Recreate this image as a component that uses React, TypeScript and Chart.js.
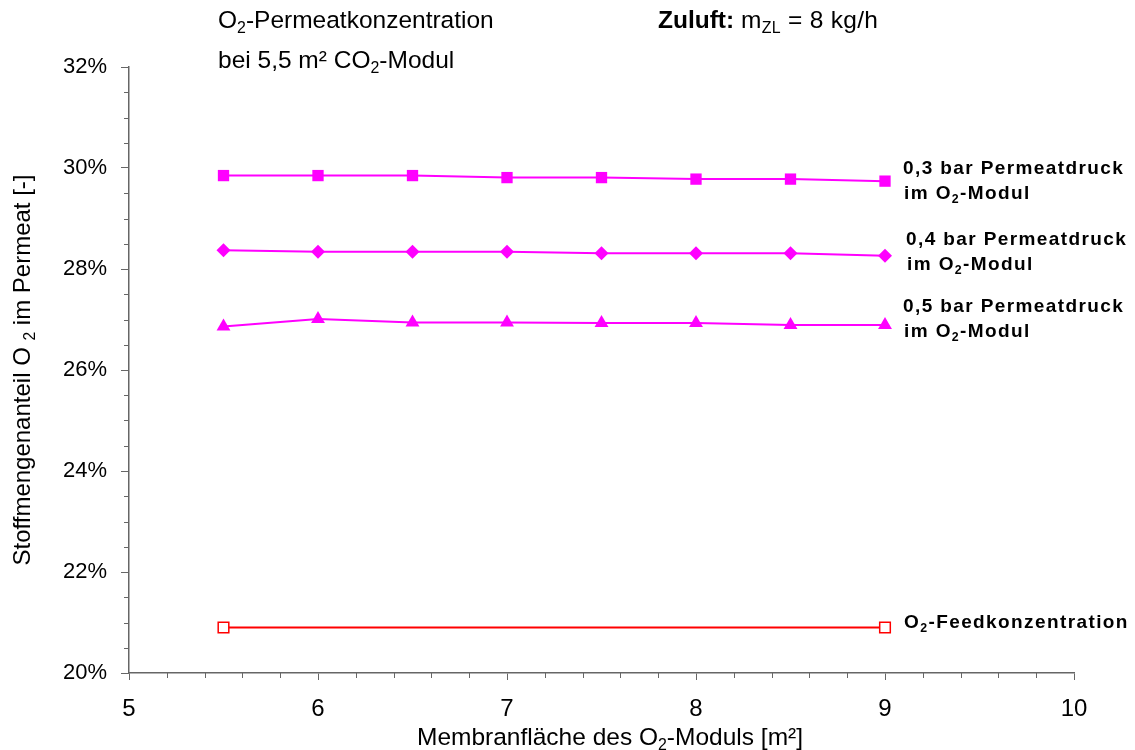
import { useEffect, useRef } from 'react';
import { Chart, registerables } from 'chart.js';

Chart.register(...registerables);

// Membrane area of the O2 module [m²]
const membraneArea = [5.5, 6, 6.5, 7, 7.5, 8, 8.5, 9];
// O2 mole fraction in the permeate [%] for each permeate pressure
const permeat03bar = [29.85, 29.85, 29.85, 29.81, 29.81, 29.78, 29.78, 29.74];
const permeat04bar = [28.37, 28.34, 28.34, 28.34, 28.31, 28.31, 28.31, 28.26];
const permeat05bar = [26.86, 27.01, 26.94, 26.94, 26.93, 26.93, 26.89, 26.89];
// O2 feed concentration (constant)
const feedArea = [5.5, 9];
const feedConc = [20.9, 20.9];

const FONT = '"Liberation Sans", Arial, sans-serif';
const MAGENTA = '#ff00ff';
const RED = '#ff0000';
const AXIS = '#666666';

type Seg = { t: string; sub?: boolean };

function drawRich(
  ctx: CanvasRenderingContext2D,
  segs: Seg[],
  x: number,
  y: number,
  size: number,
  weight: string,
  spacing: number,
  align: 'left' | 'center'
) {
  const fontFor = (s: number) => `${weight} ${s}px ${FONT}`;
  const c = ctx as any;
  c.letterSpacing = `${spacing}px`;
  const parts = segs.map((s) => {
    const sz = s.sub ? size * 0.65 : size;
    ctx.font = fontFor(sz);
    return { ...s, sz, w: ctx.measureText(s.t).width };
  });
  const total = parts.reduce((a, p) => a + p.w, 0);
  let cx = align === 'center' ? x - total / 2 : x;
  ctx.textAlign = 'left';
  ctx.textBaseline = 'alphabetic';
  for (const p of parts) {
    ctx.font = fontFor(p.sz);
    ctx.fillText(p.t, cx, y + (p.sub ? size * 0.22 : 0));
    cx += p.w;
  }
  c.letterSpacing = '0px';
}

const minorTicks = {
  id: 'minorTicks',
  afterDraw(chart: Chart) {
    const { ctx, chartArea } = chart;
    const xs = chart.scales.x;
    const ys = chart.scales.y;
    ctx.save();
    ctx.strokeStyle = AXIS;
    ctx.lineWidth = 1;
    ctx.beginPath();
    for (let i = 1; i < 25; i++) {
      if (i % 5 === 0) continue;
      const px = Math.round(xs.getPixelForValue(5 + i * 0.2)) + 0.5;
      ctx.moveTo(px, chartArea.bottom);
      ctx.lineTo(px, chartArea.bottom + 5);
    }
    for (let i = 1; i < 24; i++) {
      if (i % 4 === 0) continue;
      const py = Math.round(ys.getPixelForValue(20 + i * 0.5)) + 0.5;
      ctx.moveTo(chartArea.left, py);
      ctx.lineTo(chartArea.left - 5, py);
    }
    ctx.stroke();
    ctx.restore();
  },
};

const annotations = {
  id: 'annotations',
  afterDraw(chart: Chart) {
    const { ctx, chartArea } = chart;
    ctx.save();
    ctx.fillStyle = '#000';
    const txt = 24.5;

    // header texts
    drawRich(ctx, [{ t: 'O' }, { t: '2', sub: true }, { t: '-Permeatkonzentration' }], 218, 28, txt, 'normal', 0, 'left');
    drawRich(ctx, [{ t: 'bei 5,5 m² CO' }, { t: '2', sub: true }, { t: '-Modul' }], 218, 68, txt, 'normal', 0, 'left');
    const zx = 658;
    ctx.font = `bold ${txt}px ${FONT}`;
    ctx.textAlign = 'left';
    ctx.textBaseline = 'alphabetic';
    ctx.fillText('Zuluft:', zx, 28);
    const zw = ctx.measureText('Zuluft: ').width;
    drawRich(ctx, [{ t: 'm' }, { t: 'ZL', sub: true }, { t: ' = 8 kg/h' }], zx + zw, 28, txt, 'normal', 0.3, 'left');

    // series labels
    const lbl = 19;
    const sp = 1.4;
    const seriesLabels: [string, number, number, number][] = [
      ['0,3 bar Permeatdruck', 903, 174, 199],
      ['0,4 bar Permeatdruck', 906, 245, 270],
      ['0,5 bar Permeatdruck', 903, 312, 337],
    ];
    for (const [t, x, y1, y2] of seriesLabels) {
      drawRich(ctx, [{ t }], x, y1, lbl, 'bold', sp, 'left');
      drawRich(ctx, [{ t: 'im O' }, { t: '2', sub: true }, { t: '-Modul' }], x + 1, y2, lbl, 'bold', sp, 'left');
    }
    drawRich(ctx, [{ t: 'O' }, { t: '2', sub: true }, { t: '-Feedkonzentration' }], 904, 628, lbl, 'bold', sp, 'left');

    // axis titles
    drawRich(
      ctx,
      [{ t: 'Membranfläche des O' }, { t: '2', sub: true }, { t: '-Moduls [m²]' }],
      610,
      745,
      txt,
      'normal',
      0,
      'center'
    );
    ctx.translate(30, (chartArea.top + chartArea.bottom) / 2);
    ctx.rotate(-Math.PI / 2);
    drawRich(
      ctx,
      [{ t: 'Stoffmengenanteil O ' }, { t: '2', sub: true }, { t: ' im Permeat [-]' }],
      0,
      0,
      24,
      'normal',
      0,
      'center'
    );
    ctx.restore();
  },
};

const toPoints = (xs: number[], ys: number[]) => xs.map((x, i) => ({ x, y: ys[i] }));

export default function App() {
  const ref = useRef<HTMLCanvasElement | null>(null);

  useEffect(() => {
    if (!ref.current) return;
    const chart = new Chart(ref.current, {
      type: 'scatter',
      data: {
        datasets: [
          {
            label: '0,3 bar Permeatdruck im O2-Modul',
            data: toPoints(membraneArea, permeat03bar),
            showLine: true,
            borderColor: MAGENTA,
            backgroundColor: MAGENTA,
            borderWidth: 2,
            pointStyle: 'rect',
            pointRadius: 8,
            pointBorderWidth: 0,
          },
          {
            label: '0,4 bar Permeatdruck im O2-Modul',
            data: toPoints(membraneArea, permeat04bar),
            showLine: true,
            borderColor: MAGENTA,
            backgroundColor: MAGENTA,
            borderWidth: 2,
            pointStyle: 'rectRot',
            pointRadius: 7,
            pointBorderWidth: 0,
          },
          {
            label: '0,5 bar Permeatdruck im O2-Modul',
            data: toPoints(membraneArea, permeat05bar),
            showLine: true,
            borderColor: MAGENTA,
            backgroundColor: MAGENTA,
            borderWidth: 2,
            pointStyle: 'triangle',
            pointRadius: 8,
            pointBorderWidth: 0,
          },
          {
            label: 'O2-Feedkonzentration',
            data: toPoints(feedArea, feedConc),
            showLine: true,
            borderColor: RED,
            backgroundColor: '#ffffff',
            borderWidth: 2,
            pointStyle: 'rect',
            pointRadius: 7.5,
            pointBorderWidth: 1.5,
            pointBorderColor: RED,
          },
        ],
      },
      options: {
        responsive: false,
        animation: false,
        devicePixelRatio: 1,
        layout: { padding: { top: 67, right: 61, left: 0, bottom: 0 } },
        plugins: {
          legend: { display: false },
          tooltip: { enabled: false },
          title: { display: false },
        },
        scales: {
          x: {
            type: 'linear',
            min: 5,
            max: 10,
            ticks: {
              stepSize: 1,
              color: '#000',
              font: { family: FONT, size: 24 },
              padding: 15,
            },
            grid: { drawOnChartArea: false, drawTicks: true, tickLength: 7, color: AXIS },
            border: { color: AXIS, width: 1.5 },
            afterFit: (s: any) => {
              s.height = 77;
            },
          },
          y: {
            type: 'linear',
            min: 20,
            max: 32,
            ticks: {
              stepSize: 2,
              color: '#000',
              font: { family: FONT, size: 22 },
              padding: 14,
              callback: (v: any) => `${v}%`,
            },
            grid: { drawOnChartArea: false, drawTicks: true, tickLength: 8, color: AXIS },
            border: { color: AXIS, width: 1.5 },
            afterFit: (s: any) => {
              s.width = 129;
            },
          },
        },
      },
      plugins: [minorTicks, annotations],
    });
    return () => chart.destroy();
  }, []);

  return (
    <div style={{ position: 'absolute', left: 0, top: 0, width: 1135, height: 750, background: '#fff' }}>
      <canvas ref={ref} width={1135} height={750} />
    </div>
  );
}
